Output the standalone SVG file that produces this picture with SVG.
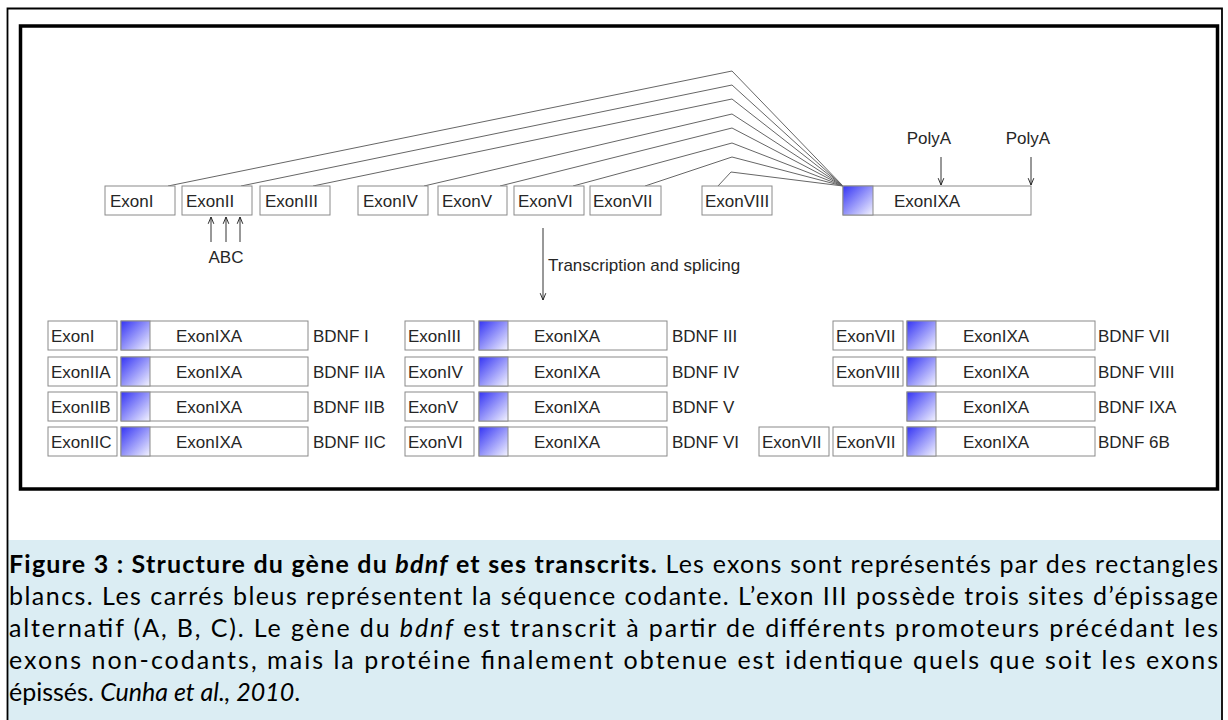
<svg xmlns="http://www.w3.org/2000/svg" width="1228" height="720" viewBox="0 0 1228 720">
<defs>
<linearGradient id="cds" x1="0" y1="0" x2="1" y2="1">
<stop offset="0" stop-color="#3434f4"/>
<stop offset="1" stop-color="#f4f4ff"/>
</linearGradient>
<marker id="ah" viewBox="0 0 10 10" refX="9.5" refY="5" markerWidth="8" markerHeight="8" markerUnits="userSpaceOnUse" orient="auto">
<path d="M1,1.5 L9.5,5 L1,8.5" fill="none" stroke="#222" stroke-width="1.2"/>
</marker>
<style>
.box{fill:#fff;stroke:#8a8a8a;stroke-width:1}
.cds{fill:url(#cds);stroke:#8a8a8a;stroke-width:1}
.t{font-family:"Liberation Sans",Arial,sans-serif;font-size:17px;fill:#262626}
.spl{fill:none;stroke:#666;stroke-width:1}
.arr{stroke:#333;stroke-width:1;marker-end:url(#ah)}
.cap{font-family:Lato,"Open Sans",sans-serif;font-size:25px;fill:#000}
</style>
</defs>
<rect x="0" y="0" width="1228" height="720" fill="#fff"/>
<rect x="8" y="540" width="1213" height="180" fill="#dbedf3"/>
<path d="M7.5,720 V8.5 H1222 V720" fill="none" stroke="#000" stroke-width="1.8"/>
<rect x="20.5" y="26" width="1197" height="463" fill="#fff" stroke="#000" stroke-width="3.5"/>

<g id="connectors">
<polyline class="spl" points="168,186 732,71 843,186"/>
<polyline class="spl" points="241,186 732,85 843,186"/>
<polyline class="spl" points="313,186 732,99 843,186"/>
<polyline class="spl" points="424,186 732,114 843,186"/>
<polyline class="spl" points="500,186 732,128 843,186"/>
<polyline class="spl" points="573,186 732,143 843,186"/>
<polyline class="spl" points="645,186 732,157 843,186"/>
<polyline class="spl" points="718,186 731,172 843,186"/>
<line class="arr" x1="211" y1="242" x2="211" y2="217"/>
<line class="arr" x1="226" y1="242" x2="226" y2="217"/>
<line class="arr" x1="240" y1="242" x2="240" y2="217"/>
<line class="arr" x1="941" y1="157" x2="941" y2="185"/>
<line class="arr" x1="1031" y1="157" x2="1031" y2="185"/>
<line class="arr" x1="543" y1="228" x2="543" y2="300"/>
</g>

<g id="gene-exonI"><rect class="box" x="105" y="186" width="70" height="29"/><text class="t" x="110" y="207">ExonI</text></g>
<g id="gene-exonII"><rect class="box" x="182" y="186" width="70" height="29"/><text class="t" x="186" y="207">ExonII</text></g>
<g id="gene-exonIII"><rect class="box" x="260" y="186" width="70" height="29"/><text class="t" x="265" y="207">ExonIII</text></g>
<g id="gene-exonIV"><rect class="box" x="358" y="186" width="70" height="29"/><text class="t" x="363" y="207">ExonIV</text></g>
<g id="gene-exonV"><rect class="box" x="438" y="186" width="69" height="29"/><text class="t" x="442" y="207">ExonV</text></g>
<g id="gene-exonVI"><rect class="box" x="514" y="186" width="70" height="29"/><text class="t" x="518" y="207">ExonVI</text></g>
<g id="gene-exonVII"><rect class="box" x="590" y="186" width="71" height="29"/><text class="t" x="593" y="207">ExonVII</text></g>
<g id="gene-exonVIII"><rect class="box" x="702" y="186" width="70" height="29"/><text class="t" x="705" y="207">ExonVIII</text></g>
<g id="gene-exonIXA"><rect class="box" x="843" y="186" width="188" height="29"/><rect class="cds" x="843" y="186" width="30" height="29"/><text class="t" x="894" y="207">ExonIXA</text></g>
<g id="label-abc"><text class="t" x="226" y="263" text-anchor="middle">ABC</text></g>
<g id="label-polya1"><text class="t" x="929" y="144" text-anchor="middle">PolyA</text></g>
<g id="label-polya2"><text class="t" x="1028" y="144" text-anchor="middle">PolyA</text></g>
<g id="label-transcription"><text class="t" x="548" y="271" font-size="16.5">Transcription and splicing</text></g>

<!-- column 1 -->
<g id="tr-I"><rect class="box" x="48" y="321" width="69" height="29"/><text class="t" x="51" y="342">ExonI</text><rect class="box" x="121" y="321" width="187" height="29"/><rect class="cds" x="121" y="321" width="29" height="29"/><text class="t" x="176" y="342">ExonIXA</text><text class="t" x="313" y="342">BDNF I</text></g>
<g id="tr-IIA"><rect class="box" x="48" y="357" width="69" height="29"/><text class="t" x="51" y="378">ExonIIA</text><rect class="box" x="121" y="357" width="187" height="29"/><rect class="cds" x="121" y="357" width="29" height="29"/><text class="t" x="176" y="378">ExonIXA</text><text class="t" x="313" y="378">BDNF IIA</text></g>
<g id="tr-IIB"><rect class="box" x="48" y="392" width="69" height="29"/><text class="t" x="51" y="413">ExonIIB</text><rect class="box" x="121" y="392" width="187" height="29"/><rect class="cds" x="121" y="392" width="29" height="29"/><text class="t" x="176" y="413">ExonIXA</text><text class="t" x="313" y="413">BDNF IIB</text></g>
<g id="tr-IIC"><rect class="box" x="48" y="427" width="69" height="29"/><text class="t" x="51" y="448">ExonIIC</text><rect class="box" x="121" y="427" width="187" height="29"/><rect class="cds" x="121" y="427" width="29" height="29"/><text class="t" x="176" y="448">ExonIXA</text><text class="t" x="313" y="448">BDNF IIC</text></g>

<!-- column 2 -->
<g id="tr-III"><rect class="box" x="405" y="321" width="69" height="29"/><text class="t" x="408" y="342">ExonIII</text><rect class="box" x="479" y="321" width="188" height="29"/><rect class="cds" x="479" y="321" width="29" height="29"/><text class="t" x="534" y="342">ExonIXA</text><text class="t" x="672" y="342">BDNF III</text></g>
<g id="tr-IV"><rect class="box" x="405" y="357" width="69" height="29"/><text class="t" x="408" y="378">ExonIV</text><rect class="box" x="479" y="357" width="188" height="29"/><rect class="cds" x="479" y="357" width="29" height="29"/><text class="t" x="534" y="378">ExonIXA</text><text class="t" x="672" y="378">BDNF IV</text></g>
<g id="tr-V"><rect class="box" x="405" y="392" width="69" height="29"/><text class="t" x="408" y="413">ExonV</text><rect class="box" x="479" y="392" width="188" height="29"/><rect class="cds" x="479" y="392" width="29" height="29"/><text class="t" x="534" y="413">ExonIXA</text><text class="t" x="672" y="413">BDNF V</text></g>
<g id="tr-VI"><rect class="box" x="405" y="427" width="69" height="29"/><text class="t" x="408" y="448">ExonVI</text><rect class="box" x="479" y="427" width="188" height="29"/><rect class="cds" x="479" y="427" width="29" height="29"/><text class="t" x="534" y="448">ExonIXA</text><text class="t" x="672" y="448">BDNF VI</text></g>

<!-- column 3 -->
<g id="tr-VII"><rect class="box" x="833" y="321" width="70" height="29"/><text class="t" x="836" y="342">ExonVII</text><rect class="box" x="907" y="321" width="188" height="29"/><rect class="cds" x="907" y="321" width="29" height="29"/><text class="t" x="963" y="342">ExonIXA</text><text class="t" x="1098" y="342">BDNF VII</text></g>
<g id="tr-VIII"><rect class="box" x="833" y="357" width="70" height="29"/><text class="t" x="836" y="378">ExonVIII</text><rect class="box" x="907" y="357" width="188" height="29"/><rect class="cds" x="907" y="357" width="29" height="29"/><text class="t" x="963" y="378">ExonIXA</text><text class="t" x="1098" y="378">BDNF VIII</text></g>
<g id="tr-IXA"><rect class="box" x="907" y="392" width="188" height="29"/><rect class="cds" x="907" y="392" width="29" height="29"/><text class="t" x="963" y="413">ExonIXA</text><text class="t" x="1098" y="413">BDNF IXA</text></g>
<g id="tr-6B"><rect class="box" x="759" y="427" width="70" height="29"/><text class="t" x="762" y="448">ExonVII</text><rect class="box" x="833" y="427" width="70" height="29"/><text class="t" x="836" y="448">ExonVII</text><rect class="box" x="907" y="427" width="188" height="29"/><rect class="cds" x="907" y="427" width="29" height="29"/><text class="t" x="963" y="448">ExonIXA</text><text class="t" x="1098" y="448">BDNF 6B</text></g>

<g id="caption">
<text class="cap" x="9" y="573" textLength="1209" lengthAdjust="spacing"><tspan font-weight="bold">Figure 3 : Structure du gène du </tspan><tspan font-weight="bold" font-style="italic">bdnf</tspan><tspan font-weight="bold"> et ses transcrits.</tspan> Les exons sont représentés par des rectangles</text>
<text class="cap" x="9" y="605" textLength="1209" lengthAdjust="spacing">blancs. Les carrés bleus représentent la séquence codante. L’exon III possède trois sites d’épissage</text>
<text class="cap" x="9" y="637" textLength="1209" lengthAdjust="spacing">alternatif (A, B, C). Le gène du <tspan font-style="italic">bdnf</tspan> est transcrit à partir de différents promoteurs précédant les</text>
<text class="cap" x="9" y="669" textLength="1209" lengthAdjust="spacing">exons non-codants, mais la protéine finalement obtenue est identique quels que soit les exons</text>
<text class="cap" x="9" y="701">épissés. <tspan font-style="italic">Cunha et al., 2010</tspan>.</text>
</g>
</svg>
